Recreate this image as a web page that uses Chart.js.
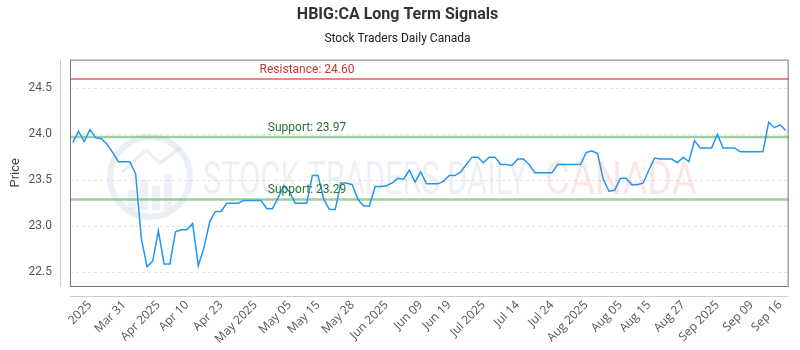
<!DOCTYPE html>
<html>
<head>
<meta charset="utf-8">
<script src="https://cdn.jsdelivr.net/npm/chart.js@4.4.1/dist/chart.umd.min.js"></script>
<style>
  html, body { margin: 0; padding: 0; background: #fff; }
  #wrap { width: 800px; height: 350px; }
</style>
</head>
<body>
<div id="wrap"><canvas id="signalChart" width="800" height="350"></canvas></div>
<script>
// closing prices, one per trading day
const prices = [
  23.91, 24.03, 23.92, 24.05, 23.96, 23.95, 23.89, 23.80, 23.70, 23.70,
  23.70, 23.57, 22.87, 22.56, 22.62, 22.95, 22.59, 22.59, 22.94, 22.96,
  22.96, 23.03, 22.57, 22.77, 23.05, 23.16, 23.16, 23.25, 23.25, 23.25,
  23.28, 23.28, 23.28, 23.28, 23.19, 23.19, 23.31, 23.44, 23.37, 23.25,
  23.25, 23.25, 23.55, 23.55, 23.29, 23.18, 23.18, 23.47, 23.47, 23.45,
  23.29, 23.22, 23.22, 23.43, 23.43, 23.44, 23.47, 23.52, 23.51, 23.61,
  23.48, 23.59, 23.46, 23.46, 23.46, 23.49, 23.55, 23.55, 23.59, 23.67,
  23.75, 23.75, 23.69, 23.75, 23.75, 23.67, 23.67, 23.66, 23.73, 23.73,
  23.67, 23.58, 23.58, 23.58, 23.58, 23.67, 23.67, 23.67, 23.67, 23.67,
  23.80, 23.82, 23.79, 23.51, 23.38, 23.39, 23.52, 23.52, 23.45, 23.45,
  23.47, 23.61, 23.74, 23.73, 23.73, 23.73, 23.69, 23.75, 23.70, 23.93,
  23.85, 23.85, 23.85, 24.00, 23.85, 23.85, 23.85, 23.81, 23.81, 23.81,
  23.81, 23.81, 24.13, 24.07, 24.10, 24.04
];

const tickLabels = [
  "2025", "Mar 31", "Apr 2025", "Apr 10", "Apr 23", "May 2025", "May 05",
  "May 15", "May 28", "Jun 2025", "Jun 09", "Jun 19", "Jul 2025", "Jul 14",
  "Jul 24", "Aug 2025", "Aug 05", "Aug 15", "Aug 27", "Sep 2025", "Sep 09", "Sep 16"
];
const tickIndex = [3, 9, 15, 20, 26, 32, 38, 43, 49, 55, 61, 66, 72, 78, 84, 90, 96, 101, 107, 113, 119, 124];

const yTicks = [22.5, 23.0, 23.5, 24.0, 24.5];

const levelNames = ["Resistance", "Support", "Support"];
const levelValues = [24.60, 23.97, 23.29];

const labels = prices.map((_, i) => {
  const k = tickIndex.indexOf(i);
  return k >= 0 ? tickLabels[k] : "";
});

// watermark, level lines and plot frame
const overlay = {
  id: "overlay",
  beforeDatasetsDraw(chart) {
    const { ctx, chartArea: a, scales } = chart;
    ctx.save();

    // faint logo
    ctx.strokeStyle = "rgba(185, 200, 222, 0.3)";
    ctx.lineWidth = 6;
    ctx.beginPath();
    ctx.arc(150, 177, 40, 0, Math.PI * 2);
    ctx.stroke();
    ctx.fillStyle = "rgba(185, 200, 222, 0.25)";
    [[128, 190, 8, 20], [140, 180, 8, 30], [152, 186, 8, 24], [164, 174, 8, 36]].forEach((b) => {
      ctx.fillRect(b[0], b[1], b[2], b[3]);
    });
    ctx.lineWidth = 3;
    ctx.beginPath();
    ctx.moveTo(122, 172);
    ctx.lineTo(146, 150);
    ctx.lineTo(160, 163);
    ctx.lineTo(180, 148);
    ctx.stroke();

    ctx.font = '46px "Roboto", sans-serif';
    ctx.textBaseline = "alphabetic";
    ctx.textAlign = "left";
    ctx.fillStyle = "rgba(190, 204, 224, 0.28)";
    ctx.fillText("STOCK TRADERS DAILY", 203, 194, 324);
    ctx.fillStyle = "rgba(245, 130, 130, 0.2)";
    ctx.fillText("CANADA", 545, 194, 152);

    // support / resistance lines
    levelValues.forEach((v, i) => {
      const y = scales.y.getPixelForValue(v);
      ctx.strokeStyle = levelNames[i] === "Resistance" ? "rgba(226, 95, 95, 0.75)" : "rgba(95, 175, 95, 0.6)";
      ctx.lineWidth = levelNames[i] === "Resistance" ? 2 : 2.5;
      ctx.beginPath();
      ctx.moveTo(a.left, y);
      ctx.lineTo(a.right, y);
      ctx.stroke();
    });
    ctx.restore();
  },
  afterDatasetsDraw(chart) {
    const { ctx, chartArea: a, scales } = chart;
    ctx.save();
    ctx.font = '12px "Roboto", sans-serif';
    ctx.textAlign = "center";
    ctx.textBaseline = "middle";
    levelValues.forEach((v, i) => {
      const y = scales.y.getPixelForValue(v);
      ctx.fillStyle = levelNames[i] === "Resistance" ? "#c0392b" : "#2e7032";
      ctx.fillText(`${levelNames[i]}: ${v.toFixed(2)}`, 307, y - 9);
    });

    // plot frame
    ctx.strokeStyle = "#777";
    ctx.lineWidth = 1;
    ctx.strokeRect(a.left + 0.5, a.top + 0.5, a.right - a.left - 1, a.bottom - a.top);

    // detached axis lines
    ctx.strokeStyle = "#ccc";
    ctx.beginPath();
    ctx.moveTo(a.left - 9.5, a.top);
    ctx.lineTo(a.left - 9.5, a.bottom + 1);
    ctx.moveTo(a.left, a.bottom + 10.5);
    ctx.lineTo(a.right, a.bottom + 10.5);
    ctx.stroke();
    ctx.restore();
  },
};

new Chart(document.getElementById("signalChart"), {
  type: "line",
  data: {
    labels: labels,
    datasets: [
      {
        label: "Price",
        data: prices,
        borderColor: "#2196f3",
        borderWidth: 1.5,
        pointRadius: 0,
        tension: 0,
        fill: false,
      },
    ],
  },
  options: {
    responsive: false,
    animation: false,
    layout: { padding: { left: 6, right: 11, top: 0, bottom: 0 } },
    plugins: {
      legend: { display: false },
      tooltip: { enabled: false },
      title: {
        display: true,
        text: "HBIG:CA Long Term Signals",
        color: "#333",
        font: { family: "Roboto", size: 16, weight: "bold" },
        padding: { top: 5, bottom: 8 },
      },
      subtitle: {
        display: true,
        text: "Stock Traders Daily Canada",
        color: "#222",
        font: { family: "Roboto", size: 12 },
        padding: { top: 0, bottom: 13 },
      },
    },
    scales: {
      x: {
        type: "category",
        offset: true,
        grid: { display: false },
        border: { display: false },
        ticks: {
          autoSkip: false,
          maxRotation: 45,
          minRotation: 45,
          padding: 4,
          color: "#555",
          font: { family: "Open Sans", size: 12 },
          callback: (value, index) => labels[index],
        },
        afterFit: (scale) => {
          scale.height = 64;
        },
      },
      y: {
        min: 22.35,
        max: 24.81,
        afterBuildTicks: (scale) => {
          scale.ticks = yTicks.map((v) => ({ value: v }));
        },
        grid: { color: "#e4e4e4", drawTicks: false },
        border: { display: false, dash: [3, 3] },
        ticks: {
          padding: 18,
          color: "#555",
          font: { family: "Roboto", size: 12 },
          callback: (value) => value.toFixed(1),
        },
        title: {
          display: true,
          text: "Price",
          color: "#444",
          font: { family: "Roboto", size: 13 },
          padding: { top: 2, bottom: 0 },
        },
        afterFit: (scale) => {
          scale.width = 64;
        },
      },
    },
  },
  plugins: [overlay],
});
</script>
</body>
</html>
